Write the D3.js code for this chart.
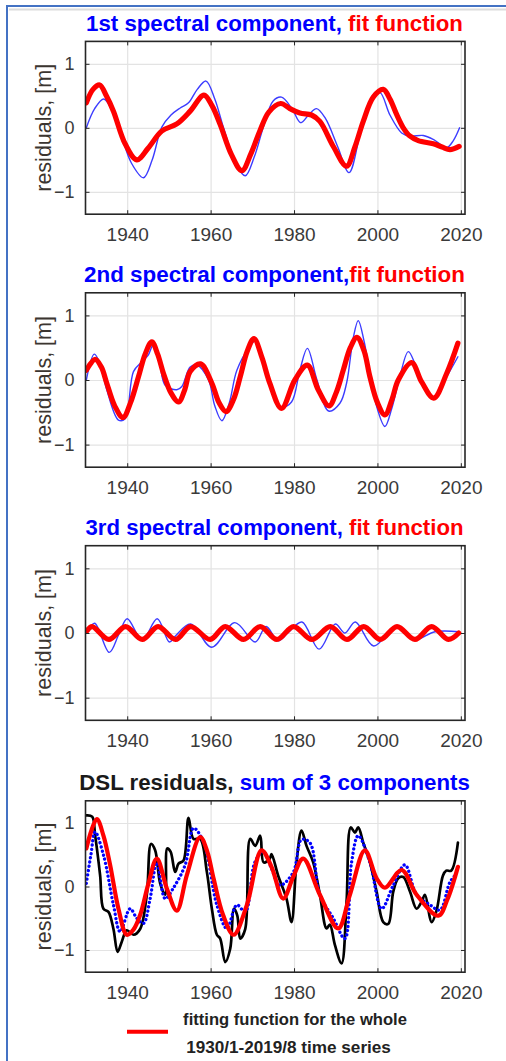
<!DOCTYPE html>
<html><head><meta charset="utf-8">
<script src="https://cdn.jsdelivr.net/npm/d3@7/dist/d3.min.js"></script>
<style>
html,body{margin:0;padding:0;background:#fff;}
svg{display:block;}
text{font-family:"Liberation Sans",Arial,sans-serif;}
</style></head>
<body>
<svg id="chart" width="506" height="1061"></svg>
<script>
// ---------------- DATA ----------------
const xTicks = [1940, 1960, 1980, 2000, 2020];
const yTicks = [-1, 0, 1];
const yLabel = "residuals, [m]";
const titles = [
  [["1st spectral component, ", "#0000ff"], ["fit function", "#ff0000"]],
  [["2nd spectral component,", "#0000ff"], ["fit function", "#ff0000"]],
  [["3rd spectral component, ", "#0000ff"], ["fit function", "#ff0000"]],
  [["DSL residuals, ", "#1a1a1a"], ["sum of 3 components", "#0000ff"]]
];
const legendLines = ["fitting function for the whole", "1930/1-2019/8 time series"];

const comp1Blue = [[1930.2,0.0],[1932.2,0.3],[1934.4,0.45],[1936.5,0.25],[1938.5,-0.1],[1941,-0.55],[1943.9,-0.78],[1946,-0.5],[1948.3,0.01],[1950.5,0.2],[1952.7,0.31],[1954.7,0.39],[1956.8,0.6],[1958.9,0.73],[1961,0.45],[1963.1,0.0],[1966,-0.55],[1968.3,-0.75],[1970.5,-0.45],[1972.6,0.0],[1975,0.42],[1977.0,0.48],[1979.5,0.3],[1981.6,0.08],[1983.5,0.2],[1985.4,0.30],[1987.5,0.15],[1990.5,-0.3],[1993.2,-0.70],[1996.2,0.0],[1998.5,0.42],[2000.6,0.55],[2003,0.2],[2005.8,-0.08],[2007.8,-0.13],[2011,-0.12],[2013.4,-0.18],[2016.6,-0.31],[2018.2,-0.2],[2019.7,0.0]];
const comp1Red = [[1930.2,0.39],[1931.8,0.6],[1933.4,0.67],[1935,0.5],[1936.7,0.26],[1939.5,-0.25],[1942.3,-0.5],[1945,-0.32],[1948.3,-0.05],[1951.9,0.06],[1955.1,0.26],[1958.4,0.51],[1960.3,0.35],[1962.3,0.05],[1965,-0.42],[1967.5,-0.67],[1969.7,-0.4],[1971.8,-0.05],[1974,0.25],[1976.8,0.38],[1979,0.3],[1981.4,0.23],[1984.2,0.2],[1986.2,0.1],[1989.5,-0.3],[1992.6,-0.6],[1994.6,-0.3],[1996.6,0.1],[1999,0.48],[2001.4,0.6],[2003,0.45],[2004.6,0.21],[2006.2,0.0],[2007.8,-0.13],[2009.8,-0.2],[2013.4,-0.25],[2015.5,-0.3],[2017.4,-0.34],[2019.6,-0.29]];

const comp2Blue = [[1930.2,0.0],[1932.1,0.40],[1933.5,0.25],[1935.1,-0.15],[1937.9,-0.62],[1939.5,-0.6],[1941.5,0.13],[1943.5,0.28],[1945,0.38],[1946.3,0.55],[1947.8,0.25],[1949.1,-0.08],[1951.9,-0.15],[1953.1,-0.1],[1955.1,0.2],[1956.7,0.23],[1959.5,0.0],[1961,-0.4],[1962.7,-0.63],[1964.5,-0.35],[1966.3,0.15],[1969.4,0.52],[1970.6,0.6],[1972.5,0.3],[1974.5,-0.15],[1977,-0.42],[1979.4,-0.34],[1981.4,0.15],[1983.2,0.49],[1985.5,0.0],[1988.3,-0.48],[1991,-0.36],[1992.6,-0.05],[1994.2,0.65],[1995.4,0.92],[1996.8,0.6],[1998.2,0.1],[2000,-0.45],[2001.8,-0.72],[2003.4,-0.45],[2005,-0.05],[2007.4,0.44],[2009,0.25],[2010.6,-0.05],[2013.5,-0.28],[2016.6,0.05],[2019.3,0.36]];
const comp2Red = [[1930.2,0.15],[1932.3,0.32],[1933.8,0.2],[1935.1,-0.05],[1937,-0.4],[1939,-0.58],[1940.8,-0.35],[1942.7,0.05],[1944.3,0.4],[1945.9,0.59],[1947.3,0.4],[1948.7,0.1],[1950.5,-0.2],[1952.3,-0.34],[1953.8,-0.15],[1955.1,0.13],[1957.6,0.25],[1960.3,-0.05],[1962,-0.35],[1963.7,-0.49],[1965.5,-0.3],[1967.1,0.05],[1968.8,0.45],[1970.4,0.64],[1972.3,0.35],[1974.2,-0.05],[1977,-0.44],[1980.2,0.0],[1983.2,0.23],[1985.8,-0.15],[1988.4,-0.4],[1990.2,-0.18],[1991.8,0.15],[1993.5,0.5],[1995.1,0.66],[1996.8,0.45],[1998.2,0.05],[2000,-0.35],[2001.8,-0.54],[2003.5,-0.3],[2005,0.0],[2008.2,0.27],[2010.6,-0.03],[2013.5,-0.28],[2016.6,0.1],[2019.3,0.57]];

const comp3Blue = [[1930.3,0.0],[1932.2,0.15],[1935.7,-0.3],[1938,-0.02],[1940,0.22],[1943.6,-0.11],[1947.2,0.22],[1950.1,-0.14],[1951.5,-0.05],[1955.2,0.14],[1960.3,-0.22],[1965.8,0.16],[1970.7,-0.14],[1973.3,0.1],[1976.2,-0.12],[1978.5,0.0],[1981.9,0.17],[1986,-0.25],[1989.9,0.14],[1992.2,0.0],[1994.7,0.17],[1999.1,-0.2],[2004.7,0.11],[2009,-0.1],[2013.8,0.02],[2019.5,0.02]];
const comp3Red = [[1930.3,0.03],[1931.6,0.1],[1935.6,-0.1],[1939.6,0.1],[1943.6,-0.1],[1947.4,0.1],[1951.6,-0.1],[1955.2,0.1],[1959.9,-0.1],[1963.5,0.1],[1967.9,-0.1],[1971.9,0.1],[1975.9,-0.1],[1979.9,0.1],[1984.3,-0.1],[1988.7,0.1],[1992.7,-0.1],[1996.7,0.1],[2000.7,-0.1],[2004.7,0.1],[2009,-0.1],[2013,0.1],[2017,-0.1],[2019.5,0.0]];

const dslBlack = [[1930.2,1.12],[1931.6,1.1],[1932.3,0.81],[1933.5,0.18],[1934.3,-0.35],[1935.5,-0.4],[1936.7,-0.67],[1937.7,-1.03],[1938.7,-0.87],[1939.9,-0.69],[1941.5,-0.76],[1943.1,-0.67],[1944.7,-0.13],[1945.7,0.67],[1946.7,0.57],[1947.9,0.05],[1949.1,-0.13],[1949.6,0.6],[1950.4,0.55],[1951.5,0.23],[1952.3,0.36],[1953.5,0.41],[1954.7,1.08],[1955.9,0.75],[1957.5,0.75],[1959.1,0.23],[1960.3,-0.35],[1961.5,-0.76],[1962.3,-0.82],[1963.5,-1.19],[1964.7,-0.98],[1965.6,-0.35],[1966.4,-0.46],[1967.1,-0.82],[1968.3,-0.67],[1969.5,0.75],[1970.7,0.64],[1971.9,0.8],[1972.7,0.38],[1974.2,0.44],[1974.6,0.51],[1976.2,0.17],[1978.2,-0.19],[1979.4,-0.56],[1980.6,0.38],[1981.8,0.88],[1983,0.64],[1984.6,0.38],[1986.2,-0.13],[1987.8,-0.66],[1988.6,-0.6],[1989.8,-0.92],[1991.4,-1.21],[1992.6,-0.24],[1993.6,0.93],[1994.6,0.85],[1995.4,0.93],[1996.6,0.69],[1998.2,0.38],[1999.8,-0.08],[2001.4,-0.56],[2002.6,-0.59],[2003.8,-0.08],[2005,0.13],[2006.2,0.15],[2007.8,-0.08],[2009.4,-0.35],[2010.6,-0.24],[2011.4,-0.13],[2013,-0.56],[2014.2,-0.37],[2015.7,0.17],[2016.5,0.25],[2017.7,0.25],[2019.3,0.69]];
const sumBlue = [[1930.2,0.05],[1931.3,0.5],[1932.3,0.86],[1934.3,0.5],[1936.7,-0.29],[1938.3,-0.71],[1940.7,-0.35],[1942.3,-0.5],[1943.9,-0.58],[1945.5,-0.19],[1947.1,0.38],[1949.1,-0.19],[1951.1,-0.02],[1953.9,0.34],[1955.9,0.92],[1958.3,0.7],[1961.5,-0.29],[1963.9,-0.66],[1966.3,-0.29],[1968.3,-0.4],[1970.6,0.38],[1972.6,0.55],[1974.5,0.3],[1976.6,0.02],[1979.8,0.22],[1981.8,0.74],[1983.8,0.69],[1986.2,-0.13],[1989.4,-0.5],[1992.2,-0.82],[1993.8,0.38],[1995.4,0.8],[1998.2,0.38],[2001,-0.35],[2003.8,0.02],[2006.6,0.34],[2009.4,-0.13],[2012.6,-0.29],[2015,-0.37],[2017.4,0.07],[2019,0.2]];
const sumRed = [[1930.2,0.6],[1932.7,1.06],[1934.3,0.8],[1935.9,0.34],[1937.9,-0.35],[1939.9,-0.76],[1941.5,-0.68],[1943.1,-0.45],[1945.1,0.05],[1947.1,0.44],[1949.5,-0.03],[1951.9,-0.38],[1954.3,0.18],[1957.5,0.78],[1959.2,0.55],[1960.7,0.13],[1963,-0.45],[1965.5,-0.76],[1968.7,-0.29],[1972.2,0.57],[1974.6,0.31],[1977.4,-0.19],[1979.8,0.15],[1982.2,0.44],[1986.2,-0.13],[1990.6,-0.66],[1993.4,-0.13],[1997,0.57],[1999.8,0.13],[2001.8,-0.02],[2005.8,0.26],[2009.4,-0.13],[2014.6,-0.46],[2016.8,-0.2],[2019.3,0.31]];

// ---------------- LAYOUT ----------------
const svg = d3.select("#chart");
const panels = [
  {top: 41.4, h: 172.8, series: [{d: comp1Blue, c: "#1a1aff", w: 1.4}, {d: comp1Red, c: "#ff0000", w: 5.2}]},
  {top: 292.8, h: 174.4, series: [{d: comp2Blue, c: "#1a1aff", w: 1.4}, {d: comp2Red, c: "#ff0000", w: 5.2}]},
  {top: 545.7, h: 174.6, series: [{d: comp3Blue, c: "#1a1aff", w: 1.4}, {d: comp3Red, c: "#ff0000", w: 5.2}]},
  {top: 800.8, h: 171.4, series: [{d: dslBlack, c: "#000000", w: 2.7}, {d: sumBlue, c: "#0000ff", w: 3.3, dash: "0.1,4.2"}, {d: sumRed, c: "#ff0000", w: 4.2}]}
];
const titleW = [377, 381, 378, 391];
const x = d3.scaleLinear().domain([1930, 2021]).range([85.5, 465]);

// frame of the whole picture
svg.append("line").attr("x1", 9).attr("x2", 506).attr("y1", 9.5).attr("y2", 9.5).attr("stroke", "#dcdcdc").attr("stroke-width", 2);
svg.append("line").attr("x1", 7).attr("x2", 506).attr("y1", 6).attr("y2", 6).attr("stroke", "#4472c4").attr("stroke-width", 2);
svg.append("line").attr("x1", 7).attr("x2", 7).attr("y1", 5).attr("y2", 1061).attr("stroke", "#4472c4").attr("stroke-width", 2);

function fitText(sel, target) {
  const fs = parseFloat(sel.attr("font-size"));
  const w = sel.node().getComputedTextLength();
  if (w > 0) sel.attr("font-size", fs * target / w);
}

const curve = d3.curveCatmullRom.alpha(0.5);

panels.forEach((p, i) => {
  const y = d3.scaleLinear().domain([-1.35, 1.35]).range([p.top + p.h, p.top]);
  const g = svg.append("g");
  const x0 = x.range()[0], x1 = x.range()[1];
  const yb = p.top + p.h;

  // grid
  g.append("g").attr("transform", `translate(0,${yb})`)
    .call(d3.axisBottom(x).tickValues(xTicks).tickSize(-p.h).tickFormat(""))
    .call(a => { a.select(".domain").remove(); a.selectAll("line").attr("stroke", "#e3e3e3").attr("stroke-width", 1.2); });
  g.append("g").attr("transform", `translate(${x0},0)`)
    .call(d3.axisLeft(y).tickValues(yTicks).tickSize(-(x1 - x0)).tickFormat(""))
    .call(a => { a.select(".domain").remove(); a.selectAll("line").attr("stroke", "#e3e3e3").attr("stroke-width", 1.2); });

  // clip
  const cid = "clip" + i;
  svg.append("clipPath").attr("id", cid).append("rect")
    .attr("x", x0).attr("y", p.top).attr("width", x1 - x0).attr("height", p.h);

  const lg = g.append("g").attr("clip-path", `url(#${cid})`);
  p.series.forEach(s => {
    const line = d3.line().x(d => x(d[0])).y(d => y(d[1])).curve(curve);
    const path = lg.append("path").datum(s.d).attr("d", line)
      .attr("fill", "none").attr("stroke", s.c).attr("stroke-width", s.w)
      .attr("stroke-linejoin", "round").attr("stroke-linecap", "round");
    if (s.dash) path.attr("stroke-dasharray", s.dash);
    if (s.c === "#1a1aff") path.attr("stroke-opacity", 0.85);
  });

  // ticks (inward, MATLAB box)
  const tickCol = "#262626";
  g.append("g").attr("transform", `translate(0,${yb})`)
    .call(d3.axisBottom(x).tickValues(xTicks).tickSize(-4).tickFormat(d3.format("d")))
    .call(a => {
      a.select(".domain").remove();
      a.selectAll("line").attr("stroke", tickCol);
      a.selectAll("text").attr("font-size", 19).attr("fill", "#3a3a3a")
        .attr("font-family", '"Liberation Sans",Arial,sans-serif')
        .attr("dy", null).attr("y", 27).attr("dominant-baseline", "auto");
    });
  g.append("g").attr("transform", `translate(0,${p.top})`)
    .call(d3.axisTop(x).tickValues(xTicks).tickSize(-4).tickFormat(""))
    .call(a => { a.select(".domain").remove(); a.selectAll("line").attr("stroke", tickCol); });
  g.append("g").attr("transform", `translate(${x0},0)`)
    .call(d3.axisLeft(y).tickValues(yTicks).tickSize(-4).tickPadding(11).tickFormat(d3.format("d")))
    .call(a => {
      a.select(".domain").remove();
      a.selectAll("line").attr("stroke", tickCol);
      a.selectAll("text").attr("font-size", 18).attr("fill", "#3a3a3a")
        .attr("font-family", '"Liberation Sans",Arial,sans-serif');
    });
  g.append("g").attr("transform", `translate(${x1},0)`)
    .call(d3.axisRight(y).tickValues(yTicks).tickSize(-4).tickFormat(""))
    .call(a => { a.select(".domain").remove(); a.selectAll("line").attr("stroke", tickCol); });

  // box
  g.append("rect").attr("x", x0).attr("y", p.top).attr("width", x1 - x0).attr("height", p.h)
    .attr("fill", "none").attr("stroke", "#262626").attr("stroke-width", 1.6);

  // y label
  const yl = g.append("text")
    .attr("transform", `translate(44,${p.top + p.h / 2}) rotate(-90)`)
    .attr("text-anchor", "middle").attr("dominant-baseline", "central")
    .attr("font-size", 20).attr("fill", "#3b3530").text(yLabel);
  fitText(yl, 128);

  // title
  const t = g.append("text").attr("x", 274.5).attr("y", p.top - 10.5)
    .attr("text-anchor", "middle").attr("font-weight", "bold").attr("font-size", 19);
  titles[i].forEach(part => t.append("tspan").attr("fill", part[1]).text(part[0]));
  fitText(t, titleW[i]);
});

// legend
svg.append("line").attr("x1", 127).attr("x2", 168).attr("y1", 1031.7).attr("y2", 1031.7)
  .attr("stroke", "#ff0000").attr("stroke-width", 4);
const lt1 = svg.append("text").attr("x", 295).attr("y", 1025).attr("text-anchor", "middle")
  .attr("font-weight", "bold").attr("font-size", 15).attr("fill", "#222").text(legendLines[0]);
fitText(lt1, 224);
const lt2 = svg.append("text").attr("x", 288.5).attr("y", 1053).attr("text-anchor", "middle")
  .attr("font-weight", "bold").attr("font-size", 15).attr("fill", "#222").text(legendLines[1]);
fitText(lt2, 205);
</script>
</body></html>
